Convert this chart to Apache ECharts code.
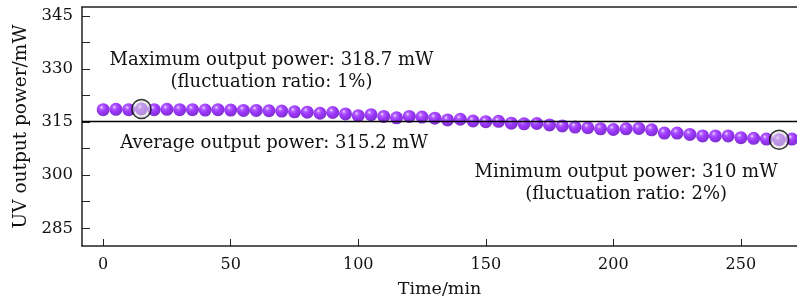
<!DOCTYPE html>
<html>
  <head>
    <meta charset="utf-8" />
    <title>UV output power</title>
    <script src="https://cdn.jsdelivr.net/npm/echarts@6/dist/echarts.min.js"></script>
  </head>
  <body style="margin:0">
    <div id="main" style="width: 797px;height:303px;"></div>
    <script type="text/javascript">
      // data: one reading every 5 min
      var times = [0, 5, 10, 15, 20, 25, 30, 35, 40, 45, 50, 55, 60, 65, 70, 75, 80, 85, 90, 95,
        100, 105, 110, 115, 120, 125, 130, 135, 140, 145, 150, 155, 160, 165, 170, 175, 180, 185,
        190, 195, 200, 205, 210, 215, 220, 225, 230, 235, 240, 245, 250, 255, 260, 265, 270];
      var power = [318.5, 318.6, 318.5, 318.7, 318.5, 318.6, 318.5, 318.5, 318.4, 318.5,
        318.4, 318.3, 318.3, 318.2, 318.1, 317.9, 317.8, 317.5, 317.7, 317.3,
        316.8, 317.1, 316.6, 316.2, 316.6, 316.4, 316.1, 315.6, 315.8, 315.3,
        315.1, 315.2, 314.7, 314.5, 314.6, 314.2, 313.9, 313.6, 313.4, 313.1,
        312.9, 313.1, 313.2, 312.8, 311.9, 311.9, 311.5, 311.1, 311.1, 311.1,
        310.6, 310.4, 310.2, 310.0, 310.2];
      var averagePower = 315.2;
      var extremes = [[15, 318.7], [265, 310]];
      var xTicks = [0, 50, 100, 150, 200, 250];
      var yLabels = [285, 300, 315, 330, 345];
      var yTicks = [285, 292.5, 300, 307.5, 315, 322.5, 330, 337.5, 345];

      var font = 'DejaVu Serif';
      var chartDom = document.getElementById('main');
      var myChart = echarts.init(chartDom);

      var points = times.map(function (t, i) { return [t, power[i]]; });

      var sphere = new echarts.graphic.RadialGradient(0.38, 0.33, 0.7, [
        { offset: 0, color: '#ecd2ff' },
        { offset: 0.22, color: '#9d33ff' },
        { offset: 0.55, color: '#8000fa' },
        { offset: 1, color: '#5c00b8' }
      ]);

      var option = {
        animation: false,
        backgroundColor: '#fff',
        grid: { left: 82, right: 0, top: 7, bottom: 57 },
        xAxis: [
          {
            type: 'value',
            min: -8.3,
            max: 272,
            name: 'Time/min',
            nameLocation: 'middle',
            nameGap: 34,
            nameTextStyle: { fontFamily: font, fontSize: 17.5, color: '#111' },
            axisLine: { show: true, lineStyle: { color: '#222', width: 1.5 } },
            axisTick: { show: true, inside: true, length: 7, customValues: xTicks, lineStyle: { color: '#222' } },
            axisLabel: { customValues: xTicks, fontFamily: font, fontSize: 16, color: '#111', margin: 11 },
            splitLine: { show: false }
          },
          {
            type: 'value',
            position: 'top',
            min: -8.3,
            max: 272,
            axisLine: { show: true, onZero: false, lineStyle: { color: '#222', width: 1.5 } },
            axisTick: { show: false },
            axisLabel: { show: false },
            splitLine: { show: false }
          }
        ],
        yAxis: {
          type: 'value',
          min: 280,
          max: 347.5,
          name: 'UV output power/mW',
          nameLocation: 'middle',
          nameGap: 51,
          nameTextStyle: { fontFamily: font, fontSize: 18.5, color: '#111' },
          axisLine: { show: true, onZero: false, lineStyle: { color: '#222', width: 1.5 } },
          axisTick: { show: true, inside: true, length: 8, customValues: yTicks, lineStyle: { color: '#222' } },
          axisLabel: { customValues: yLabels, fontFamily: font, fontSize: 16.5, color: '#111', margin: 9 },
          splitLine: { show: false }
        },
        series: [
          {
            type: 'scatter',
            data: points,
            symbol: 'circle',
            symbolSize: 13,
            itemStyle: { color: sphere },
            markLine: {
              silent: true,
              symbol: 'none',
              label: { show: false },
              lineStyle: { color: '#000', width: 1.3, type: 'solid' },
              data: [{ yAxis: averagePower }]
            },
            markPoint: {
              silent: true,
              symbol: 'circle',
              symbolSize: 0,
              label: {
                show: true,
                fontFamily: font,
                fontSize: 18,
                color: '#111',
                lineHeight: 22,
                align: 'center',
                verticalAlign: 'middle'
              },
              data: [
                { coord: [66, 329.4], value: 'Maximum output power: 318.7 mW\n(fluctuation ratio: 1%)' },
                { coord: [67, 308.9], value: 'Average output power: 315.2 mW' },
                { coord: [205, 297.6], value: 'Minimum output power: 310 mW\n(fluctuation ratio: 2%)' }
              ]
            }
          },
          {
            type: 'scatter',
            data: extremes,
            symbol: 'circle',
            symbolSize: 19,
            z: 5,
            itemStyle: { color: 'rgba(220,220,220,0.7)', borderColor: '#000', borderWidth: 1.5 }
          }
        ]
      };

      myChart.setOption(option);
    </script>
  </body>
</html>
